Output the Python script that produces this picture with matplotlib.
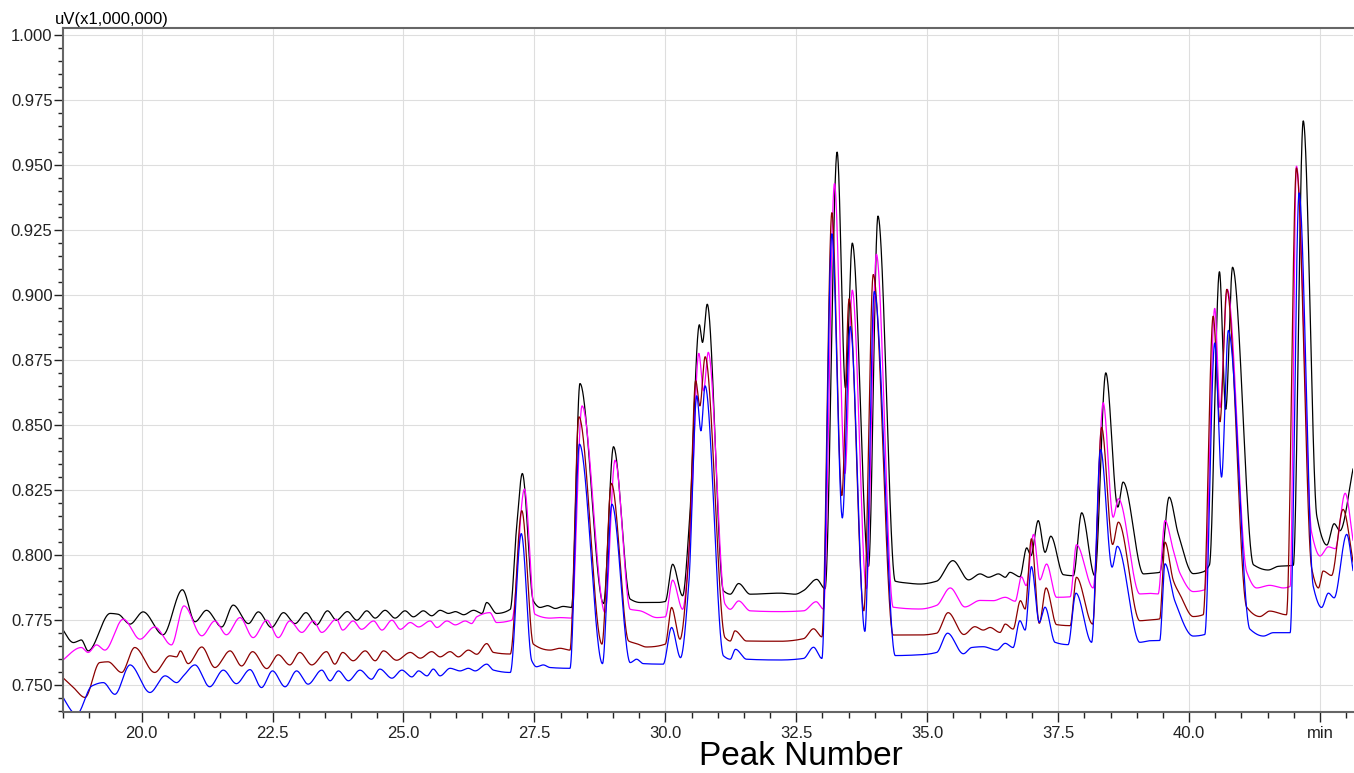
import numpy as np
import matplotlib
matplotlib.use('Agg')
import matplotlib.pyplot as plt
from matplotlib.ticker import MultipleLocator, FuncFormatter

plt.rcParams['font.family'] = ['Liberation Sans', 'DejaVu Sans']

# retention time (min) / signal (uV x 1,000,000), peaks and valleys
black_t = [18.45, 18.70, 18.85, 18.98, 19.40, 19.55, 19.78, 20.03, 20.41, 20.78, 21.02, 21.24, 21.53, 21.75,
           22.04, 22.23, 22.48, 22.71, 22.93, 23.14, 23.34, 23.55, 23.72, 23.93, 24.11, 24.30, 24.46, 24.65,
           24.84, 25.03, 25.19, 25.38, 25.54, 25.70, 25.86, 25.99, 26.15, 26.34, 26.50, 26.59, 26.78, 27.04,
           27.16, 27.27, 27.48, 27.61, 27.75, 27.90, 28.05, 28.21, 28.37, 28.82, 29.01, 29.33, 29.52, 29.84,
           30.00, 30.14, 30.33, 30.46, 30.65, 30.71, 30.80, 31.11, 31.24, 31.40, 31.62, 32.19, 32.48, 32.64,
           32.89, 33.05, 33.28, 33.44, 33.57, 33.88, 34.06, 34.39, 34.61, 34.86, 35.18, 35.49, 35.79, 36.01,
           36.17, 36.36, 36.49, 36.58, 36.77, 36.90, 36.98, 37.12, 37.25, 37.36, 37.60, 37.79, 37.95, 38.20,
           38.41, 38.64, 38.74, 39.13, 39.25, 39.44, 39.62, 39.79, 40.08, 40.27, 40.39, 40.58, 40.70, 40.83,
           41.23, 41.51, 41.70, 41.99, 42.18, 42.44, 42.63, 42.77, 42.88, 43.14]
black_v = [0.7728, 0.7664, 0.7674, 0.7632, 0.7776, 0.7773, 0.7735, 0.7782, 0.7694, 0.7867, 0.7744, 0.7788, 0.7724, 0.7808,
           0.7737, 0.7782, 0.7722, 0.7779, 0.7737, 0.7779, 0.7732, 0.7786, 0.7750, 0.7783, 0.7750, 0.7786, 0.7758, 0.7788,
           0.7758, 0.7786, 0.7763, 0.7786, 0.7767, 0.7788, 0.7776, 0.7783, 0.7771, 0.7788, 0.7776, 0.7818, 0.7776, 0.7792,
           0.8106, 0.8314, 0.7824, 0.7799, 0.7806, 0.7795, 0.7803, 0.7799, 0.8660, 0.7814, 0.8417, 0.7831, 0.7818, 0.7818,
           0.7822, 0.7965, 0.7844, 0.8126, 0.8886, 0.8818, 0.8965, 0.7863, 0.7850, 0.7891, 0.7850, 0.7854, 0.7850, 0.7864,
           0.7907, 0.7871, 0.9550, 0.8643, 0.9200, 0.7957, 0.9304, 0.7900, 0.7893, 0.7889, 0.7900, 0.7979, 0.7905, 0.7928,
           0.7915, 0.7928, 0.7915, 0.7934, 0.7917, 0.8028, 0.7998, 0.8133, 0.8011, 0.8073, 0.7925, 0.7921, 0.8163, 0.7921,
           0.8701, 0.8185, 0.8281, 0.7928, 0.7930, 0.7934, 0.8223, 0.8084, 0.7929, 0.7936, 0.7963, 0.9090, 0.8561, 0.9107,
           0.7963, 0.7943, 0.7957, 0.7961, 0.9670, 0.8149, 0.8039, 0.8121, 0.8094, 0.8341]

magenta_t = [18.44, 18.85, 18.98, 19.14, 19.30, 19.65, 19.97, 20.25, 20.57, 20.81, 21.15, 21.40, 21.62, 21.88,
             22.13, 22.39, 22.61, 22.83, 23.06, 23.28, 23.44, 23.72, 23.84, 24.04, 24.20, 24.43, 24.59, 24.78,
             24.94, 25.13, 25.29, 25.51, 25.64, 25.83, 25.99, 26.18, 26.30, 26.40, 26.65, 26.78, 27.07, 27.31,
             27.51, 27.80, 27.99, 28.21, 28.41, 28.85, 29.04, 29.33, 29.52, 29.84, 30.00, 30.14, 30.33, 30.47,
             30.64, 30.73, 30.82, 31.14, 31.24, 31.40, 31.62, 32.19, 32.64, 32.88, 33.02, 33.23, 33.43, 33.57,
             33.84, 34.03, 34.35, 34.86, 35.18, 35.44, 35.72, 36.01, 36.26, 36.49, 36.68, 36.80, 36.89, 37.03,
             37.15, 37.28, 37.47, 37.73, 37.85, 38.17, 38.36, 38.55, 38.65, 39.06, 39.25, 39.41, 39.54, 39.70,
             39.83, 40.08, 40.30, 40.49, 40.59, 40.73, 41.10, 41.29, 41.54, 41.80, 41.93, 42.05, 42.34, 42.50,
             42.66, 42.79, 42.98, 43.14]
magenta_v = [0.7587, 0.7645, 0.7626, 0.7655, 0.7635, 0.7754, 0.7677, 0.7724, 0.7655, 0.7805, 0.7690, 0.7747, 0.7694, 0.7760,
             0.7683, 0.7750, 0.7683, 0.7747, 0.7703, 0.7747, 0.7703, 0.7754, 0.7712, 0.7747, 0.7715, 0.7747, 0.7712, 0.7750,
             0.7715, 0.7741, 0.7724, 0.7747, 0.7722, 0.7747, 0.7732, 0.7747, 0.7737, 0.7763, 0.7779, 0.7741, 0.7750, 0.8254,
             0.7773, 0.7758, 0.7760, 0.7758, 0.8574, 0.7779, 0.8365, 0.7792, 0.7786, 0.7760, 0.7763, 0.7904, 0.7792, 0.8068,
             0.8776, 0.8632, 0.8780, 0.7812, 0.7792, 0.7824, 0.7786, 0.7783, 0.7786, 0.7821, 0.7793, 0.9429, 0.8314, 0.9019,
             0.7871, 0.9157, 0.7800, 0.7793, 0.7807, 0.7874, 0.7801, 0.7826, 0.7825, 0.7838, 0.7823, 0.7917, 0.7883, 0.8080,
             0.7905, 0.7966, 0.7838, 0.7840, 0.8040, 0.7874, 0.8586, 0.8146, 0.8217, 0.7851, 0.7853, 0.7851, 0.8133, 0.8018,
             0.7929, 0.7860, 0.7867, 0.8949, 0.8568, 0.9022, 0.7936, 0.7874, 0.7884, 0.7874, 0.7880, 0.9496, 0.8087, 0.7997,
             0.8032, 0.8025, 0.8238, 0.8045]

maroon_t = [18.44, 18.70, 18.92, 19.20, 19.36, 19.62, 19.87, 20.25, 20.54, 20.67, 20.74, 20.89, 21.15, 21.40,
            21.69, 21.91, 22.12, 22.39, 22.61, 22.83, 23.02, 23.25, 23.53, 23.69, 23.84, 24.04, 24.27, 24.46,
            24.62, 24.87, 25.13, 25.32, 25.54, 25.70, 25.89, 26.05, 26.24, 26.40, 26.59, 26.72, 27.04, 27.26,
            27.48, 27.80, 27.99, 28.18, 28.35, 28.79, 28.97, 29.30, 29.45, 29.64, 30.00, 30.12, 30.28, 30.44,
            30.58, 30.66, 30.76, 31.14, 31.24, 31.33, 31.55, 32.19, 32.64, 32.83, 32.99, 33.18, 33.37, 33.51,
            33.79, 33.97, 34.35, 34.86, 35.18, 35.40, 35.70, 35.91, 36.07, 36.20, 36.39, 36.49, 36.64, 36.78,
            36.87, 36.99, 37.14, 37.27, 37.47, 37.73, 37.85, 38.16, 38.33, 38.54, 38.65, 39.06, 39.25, 39.44,
            39.54, 39.70, 39.83, 40.08, 40.27, 40.46, 40.59, 40.72, 41.10, 41.35, 41.54, 41.86, 42.05, 42.34,
            42.47, 42.56, 42.72, 42.94, 43.14]
maroon_v = [0.7540, 0.7491, 0.7453, 0.7587, 0.7590, 0.7549, 0.7645, 0.7549, 0.7613, 0.7609, 0.7632, 0.7583, 0.7647, 0.7568,
            0.7632, 0.7574, 0.7629, 0.7564, 0.7617, 0.7578, 0.7626, 0.7578, 0.7629, 0.7581, 0.7626, 0.7594, 0.7632, 0.7594,
            0.7632, 0.7596, 0.7626, 0.7604, 0.7629, 0.7609, 0.7629, 0.7609, 0.7635, 0.7619, 0.7660, 0.7626, 0.7620, 0.8171,
            0.7658, 0.7635, 0.7642, 0.7635, 0.8532, 0.7658, 0.8276, 0.7670, 0.7660, 0.7647, 0.7658, 0.7799, 0.7677, 0.7972,
            0.8671, 0.8574, 0.8763, 0.7683, 0.7670, 0.7709, 0.7670, 0.7669, 0.7679, 0.7717, 0.7686, 0.9317, 0.8229, 0.8986,
            0.7786, 0.9079, 0.7693, 0.7693, 0.7700, 0.7779, 0.7695, 0.7725, 0.7712, 0.7722, 0.7703, 0.7735, 0.7716, 0.7825,
            0.7793, 0.8063, 0.7738, 0.7874, 0.7733, 0.7729, 0.7915, 0.7735, 0.8491, 0.8041, 0.8127, 0.7748, 0.7751, 0.7755,
            0.8050, 0.7902, 0.7847, 0.7764, 0.7771, 0.8919, 0.8513, 0.9022, 0.7800, 0.7764, 0.7785, 0.7771, 0.9489, 0.7950,
            0.7874, 0.7939, 0.7922, 0.8176, 0.7963]

blue_t = [18.44, 18.76, 19.05, 19.27, 19.49, 19.78, 20.16, 20.45, 20.67, 20.80, 21.02, 21.30, 21.56, 21.81,
          22.07, 22.29, 22.50, 22.74, 22.96, 23.18, 23.44, 23.60, 23.76, 23.95, 24.17, 24.39, 24.55, 24.78,
          24.97, 25.16, 25.29, 25.45, 25.57, 25.70, 25.89, 26.08, 26.24, 26.37, 26.59, 26.72, 27.04, 27.25,
          27.45, 27.54, 27.67, 27.80, 28.18, 28.36, 28.80, 28.98, 29.33, 29.45, 29.58, 29.96, 30.12, 30.29,
          30.45, 30.60, 30.68, 30.76, 31.11, 31.24, 31.34, 31.55, 32.19, 32.64, 32.83, 32.99, 33.18, 33.38,
          33.53, 33.81, 33.99, 34.39, 34.86, 35.18, 35.39, 35.69, 35.85, 36.07, 36.33, 36.49, 36.64, 36.77,
          36.87, 36.99, 37.14, 37.25, 37.44, 37.69, 37.84, 38.14, 38.31, 38.53, 38.63, 39.06, 39.25, 39.44,
          39.54, 39.73, 40.08, 40.30, 40.49, 40.62, 40.75, 41.16, 41.42, 41.61, 41.93, 42.10, 42.37, 42.53,
          42.66, 42.77, 43.01, 43.14]
blue_v = [0.7472, 0.7388, 0.7497, 0.7510, 0.7465, 0.7578, 0.7472, 0.7536, 0.7510, 0.7536, 0.7578, 0.7494, 0.7558, 0.7506,
          0.7560, 0.7491, 0.7555, 0.7494, 0.7555, 0.7504, 0.7558, 0.7517, 0.7555, 0.7517, 0.7558, 0.7523, 0.7562, 0.7527,
          0.7558, 0.7532, 0.7555, 0.7536, 0.7562, 0.7536, 0.7565, 0.7555, 0.7565, 0.7555, 0.7581, 0.7558, 0.7549, 0.8083,
          0.7594, 0.7571, 0.7578, 0.7568, 0.7565, 0.8427, 0.7583, 0.8196, 0.7587, 0.7600, 0.7583, 0.7581, 0.7722, 0.7606,
          0.7895, 0.8613, 0.8478, 0.8651, 0.7613, 0.7600, 0.7638, 0.7600, 0.7597, 0.7603, 0.7646, 0.7603, 0.9236, 0.8143,
          0.8879, 0.7707, 0.9014, 0.7614, 0.7617, 0.7626, 0.7700, 0.7621, 0.7645, 0.7648, 0.7635, 0.7661, 0.7645, 0.7748,
          0.7712, 0.7956, 0.7742, 0.7800, 0.7665, 0.7656, 0.7854, 0.7665, 0.8406, 0.7954, 0.8034, 0.7665, 0.7671, 0.7672,
          0.7967, 0.7823, 0.7689, 0.7695, 0.8816, 0.8300, 0.8864, 0.7716, 0.7689, 0.7702, 0.7702, 0.9393, 0.7881, 0.7799,
          0.7854, 0.7836, 0.8080, 0.7929]

x_ticks = [20.0, 22.5, 25.0, 27.5, 30.0, 32.5, 35.0, 37.5, 40.0, 42.5]
y_ticks = [0.750, 0.775, 0.800, 0.825, 0.850, 0.875, 0.900, 0.925, 0.950, 0.975, 1.000]


def pchip(x, y, xs):
    # monotone cubic through the read points (keeps peaks/valleys where they were read)
    x = np.asarray(x, float)
    y = np.asarray(y, float)
    h = np.diff(x)
    d = np.diff(y) / h
    m = np.zeros_like(y)
    for k in range(1, len(x) - 1):
        if d[k - 1] * d[k] > 0:
            w1 = 2 * h[k] + h[k - 1]
            w2 = h[k] + 2 * h[k - 1]
            m[k] = (w1 + w2) / (w1 / d[k - 1] + w2 / d[k])
    m[0] = d[0]
    m[-1] = d[-1]
    i = np.clip(np.searchsorted(x, xs) - 1, 0, len(x) - 2)
    s = (xs - x[i]) / h[i]
    h00 = 2 * s**3 - 3 * s**2 + 1
    h10 = s**3 - 2 * s**2 + s
    h01 = -2 * s**3 + 3 * s**2
    h11 = s**3 - s**2
    return h00 * y[i] + h10 * h[i] * m[i] + h01 * y[i + 1] + h11 * h[i] * m[i + 1]


fig = plt.figure(figsize=(13.54, 7.73), dpi=100)
ax = fig.add_axes([63 / 1354, 61 / 773, 1290 / 1354, 684 / 773])

series = [(black_t, black_v, '#000000'),
          (magenta_t, magenta_v, '#ff00ff'),
          (maroon_t, maroon_v, '#8b0000'),
          (blue_t, blue_v, '#0000ff')]
for t, v, c in series:
    xs = np.linspace(t[0], t[-1], 5000)
    ax.plot(xs, pchip(t, v, xs), color=c, lw=0.9)

ax.set_xlim(18.5, 43.13)
ax.set_ylim(0.7397, 1.0027)

ax.set_xticks(x_ticks)
ax.xaxis.set_minor_locator(MultipleLocator(0.5))
ax.xaxis.set_major_formatter(FuncFormatter(lambda x, p: 'min' if abs(x - 42.5) < 1e-6 else '%.1f' % x))
ax.set_yticks(y_ticks)
ax.yaxis.set_minor_locator(MultipleLocator(0.005))
ax.yaxis.set_major_formatter(FuncFormatter(lambda y, p: '%.3f' % y))

ax.tick_params(axis='x', which='major', direction='out', length=7.5, width=1, pad=2.5, labelsize=12, colors='#222222')
ax.tick_params(axis='x', which='minor', direction='out', length=4.5, width=1, colors='#222222')
ax.tick_params(axis='y', which='major', direction='out', length=6.5, width=1, pad=1, labelsize=12, colors='#222222')
ax.tick_params(axis='y', which='minor', direction='out', length=3.5, width=1, colors='#222222')

ax.grid(True, which='major', color='#dedede', lw=0.8)
ax.set_axisbelow(True)

for side in ['left', 'bottom', 'top']:
    ax.spines[side].set_color('#666666')
    ax.spines[side].set_linewidth(1.5)
ax.spines['right'].set_visible(False)

fig.text(55 / 1354, (773 - 24) / 773, 'uV(x1,000,000)', fontsize=12, va='baseline', ha='left')
fig.text(801 / 1354, 1 / 773, 'Peak Number', fontsize=24, va='bottom', ha='center')

fig.savefig('out.png', dpi=100)
